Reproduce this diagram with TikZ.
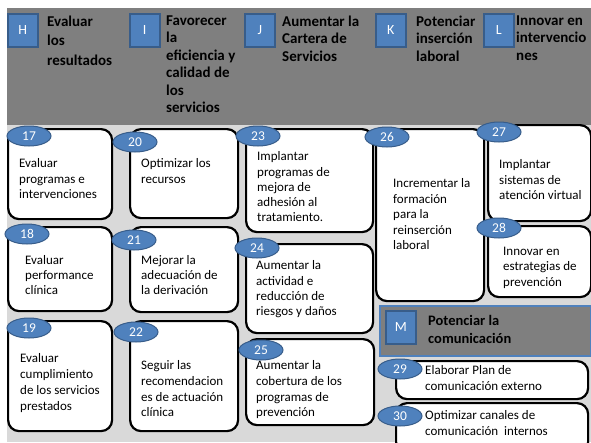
\documentclass[tikz,border=0pt]{standalone}
\usepackage{fontspec}
\setmainfont{Carlito}
\usetikzlibrary{shapes.geometric}
\definecolor{azul}{HTML}{4F81BD}
\definecolor{azulborde}{HTML}{385D8A}
\definecolor{grisoscuro}{HTML}{7F7F7F}
\definecolor{grisclaro}{HTML}{D9D9D9}

\begin{document}
\begin{tikzpicture}[x=1pt, y=-1pt, inner sep=0pt]
		\tikzstyle{caja}=[draw=black, line width=2.2pt, fill=white, rounded corners=11pt, anchor=north west]
		\tikzstyle{numero}=[ellipse, draw=azulborde, line width=1pt, fill=azul, minimum width=44pt, minimum height=20pt, text=white, font=\fontsize{13.5}{15}\selectfont]
		\tikzstyle{letra}=[draw=azulborde, line width=1.5pt, fill=azul, minimum width=30pt, minimum height=33pt, anchor=north west, text=white, font=\fontsize{14}{16}\selectfont]
		\tikzstyle{titulo}=[anchor=north west, align=left, font=\fontsize{15}{17.5}\selectfont\bfseries]
		\tikzstyle{texto}=[anchor=north west, align=left, font=\fontsize{13}{15.5}\selectfont]

			\useasboundingbox (0,0) rectangle (591,442);
			\clip (0,0) rectangle (591,442);
			\fill[grisoscuro] (7,8) rectangle (591,125);
			\fill[grisclaro] (7,125) rectangle (591,442);

			\node[letra] (H) at (7,13) {H};
			\node[letra] (I) at (129,13) {I};
			\node[letra] (J) at (244,13) {J};
			\node[letra] (K) at (375,13) {K};
			\node[letra] (L) at (483,13) {L};
			\node[titulo, font=\fontsize{15}{19.5}\selectfont\bfseries] (tituloH) at (47,15.5) {Evaluar\\los\\resultados};
			\node[titulo] (tituloI) at (166,15.5) {Favorecer\\la\\eficiencia y\\calidad de\\los\\servicios};
			\node[titulo] (tituloJ) at (282,15.5) {Aumentar la\\Cartera de\\Servicios};
			\node[titulo] (tituloK) at (416,15.5) {Potenciar\\inserción\\laboral};
			\node[titulo] (tituloL) at (516,15.5) {Innovar en\\intervencio\\nes};

			\node[caja, minimum width=104pt, minimum height=90pt] (c17) at (7,128) {};
			\node[caja, minimum width=104pt, minimum height=84pt] (c18) at (7,226) {};
			\node[caja, minimum width=104pt, minimum height=110pt] (c19) at (7,320) {};
			\node[caja, minimum width=108pt, minimum height=89pt] (c20) at (129,128) {};
			\node[caja, minimum width=108pt, minimum height=85pt] (c21) at (129,226) {};
			\node[caja, minimum width=108pt, minimum height=110pt] (c22) at (129,320) {};
			\node[caja, minimum width=127pt, minimum height=103pt] (c23) at (245,128) {};
			\node[caja, minimum width=127pt, minimum height=89pt] (c24) at (245,243) {};
			\node[caja, minimum width=128pt, minimum height=86pt] (c25) at (245,338) {};
			\node[caja, minimum width=108pt, minimum height=172pt] (c26) at (375,128) {};
			\node[caja, minimum width=103pt, minimum height=96pt] (c27) at (487,124) {};
			\node[caja, minimum width=103pt, minimum height=71pt] (c28) at (487,225) {};
			\node[caja, minimum width=192pt, minimum height=38pt] (c29) at (395,360) {};
			\node[caja, minimum width=192pt, minimum height=50pt] (c30) at (395,402) {};

			\node[draw=azul, line width=2pt, fill=grisoscuro, minimum width=211pt, minimum height=50pt, anchor=north west] (comunicacion) at (379,305) {};
			\node[letra] (M) at (385,310) {M};
			\node[titulo, font=\fontsize{14.5}{18}\selectfont\bfseries] (tituloM) at (428,315) {Potenciar la\\comunicación};

			\node[texto] (t17) at (19,158.5) {Evaluar\\programas e\\intervenciones};
			\node[texto] (t20) at (141,158.5) {Optimizar los\\recursos};
			\node[texto, font=\fontsize{13}{15.3}\selectfont] (t23) at (257,151.5) {Implantar\\programas de\\mejora de\\adhesión al\\tratamiento.};
			\node[texto] (t26) at (393,178.5) {Incrementar la\\formación\\para la\\reinserción\\laboral};
			\node[texto] (t27) at (499,159.5) {Implantar\\sistemas de\\atención virtual};
			\node[texto, font=\fontsize{13}{15}\selectfont] (t18) at (25,255.5) {Evaluar\\performance\\clínica};
			\node[texto, font=\fontsize{13}{15}\selectfont] (t21) at (141,255.5) {Mejorar la\\adecuación de\\la derivación};
			\node[texto, font=\fontsize{13}{15.3}\selectfont] (t24) at (256,260.5) {Aumentar la\\actividad e\\reducción de\\riesgos y daños};
			\node[texto] (t28) at (503,246.5) {Innovar en\\estrategias de\\prevención};
			\node[texto, font=\fontsize{13}{16}\selectfont] (t19) at (20,353.5) {Evaluar\\cumplimiento\\de los servicios\\prestados};
			\node[texto, font=\fontsize{13}{15.7}\selectfont] (t22) at (141,360.5) {Seguir las\\recomendacion\\es de actuación\\clínica};
			\node[texto, font=\fontsize{13}{15.7}\selectfont] (t25) at (256,360.5) {Aumentar la\\cobertura de los\\programas de\\prevención};
			\node[texto, font=\fontsize{13}{16}\selectfont] (t29) at (425,365.5) {Elaborar Plan de\\comunicación externo};
			\node[texto, font=\fontsize{13}{16}\selectfont] (t30) at (425,410.5) {Optimizar canales de\\comunicación\ \ internos};

			\node[numero] (n17) at (29,136) {17};
			\node[numero] (n18) at (27,234) {18};
			\node[numero] (n19) at (29,328) {19};
			\node[numero] (n20) at (135,142) {20};
			\node[numero] (n21) at (134,240) {21};
			\node[numero] (n22) at (136,332) {22};
			\node[numero] (n23) at (258,136) {23};
			\node[numero] (n24) at (257,248) {24};
			\node[numero] (n25) at (261,350) {25};
			\node[numero] (n26) at (387,137) {26};
			\node[numero] (n27) at (499,132) {27};
			\node[numero] (n28) at (499,228) {28};
			\node[numero] (n29) at (400,369) {29};
			\node[numero] (n30) at (400,416) {30};
		\end{tikzpicture}
\end{document}
